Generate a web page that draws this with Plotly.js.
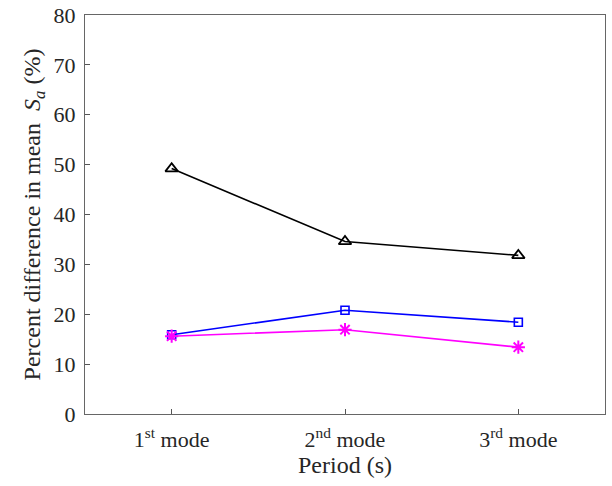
<!DOCTYPE html>
<html><head><meta charset="utf-8">
<script src="https://cdn.plot.ly/plotly-3.0.1.min.js"></script>
<style>body{margin:0;background:#fff}#chart{width:612px;height:486px}</style>
</head><body><div id="chart"></div>
<script>
const modes = [1, 2, 3];
const tickLabels = ["1<sup>st</sup> mode", "2<sup>nd</sup> mode", "3<sup>rd</sup> mode"];
const seriesBlack = [49.2, 34.6, 31.8];
const seriesBlue = [15.9, 20.8, 18.4];
const seriesMagenta = [15.6, 16.9, 13.4];

const FONT = "Liberation Serif, Times New Roman, serif";

const traces = [
  {x: modes, y: seriesBlack, mode: "lines+markers", line: {color: "#000000", width: 1.6},
   marker: {symbol: "triangle-up-open", size: 11, color: "#000000", line: {width: 1.8}}},
  {x: modes, y: seriesBlue, mode: "lines+markers", line: {color: "#0000ff", width: 1.6},
   marker: {symbol: "square-open", size: 8, color: "#0000ff", line: {width: 1.6}}},
  {x: modes, y: seriesMagenta, mode: "lines+markers", line: {color: "#ff00ff", width: 1.6},
   marker: {symbol: "asterisk-open", size: 11, color: "#ff00ff", line: {width: 2, color: "#ff00ff"}}}
];

const layout = {
  width: 612, height: 486,
  margin: {l: 85, r: 7, t: 15, b: 72},
  showlegend: false,
  paper_bgcolor: "#ffffff", plot_bgcolor: "#ffffff",
  font: {family: FONT, size: 22, color: "#262626"},
  xaxis: {
    range: [0.5, 3.5], tickvals: modes, ticktext: tickLabels,
    ticks: "inside", ticklen: 5, tickcolor: "#555555",
    showline: true, mirror: true, linecolor: "#666666", linewidth: 1,
    showgrid: false, zeroline: false, ticklabelstandoff: 6,
    tickfont: {family: FONT, size: 22, color: "#262626"},
    title: {text: "Period (s)", font: {family: FONT, size: 24, color: "#262626"}, standoff: 2}
  },
  yaxis: {
    range: [0, 80], dtick: 10,
    ticks: "inside", ticklen: 5, tickcolor: "#555555",
    showline: true, mirror: true, linecolor: "#666666", linewidth: 1,
    showgrid: false, zeroline: false, ticklabelstandoff: 4,
    tickfont: {family: FONT, size: 22, color: "#262626"},
    title: {text: "Percent difference in mean  <i>S<sub>a</sub></i> (%)", font: {family: FONT, size: 24, color: "#262626"}, standoff: 6}
  }
};
Plotly.newPlot("chart", traces, layout, {displayModeBar: false, staticPlot: true});
</script></body></html>
